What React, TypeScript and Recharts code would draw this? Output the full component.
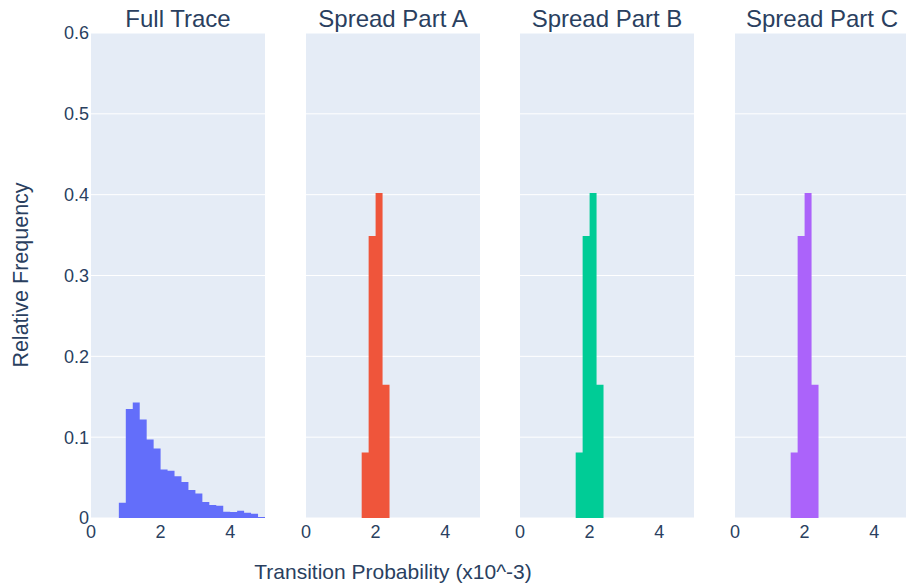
import { AreaChart, Area, XAxis, YAxis, CartesianGrid } from "recharts";

// bin edges and relative frequency per bin (bin width 0.2, x10^-3)
const fullTraceEdges = [
  0.8, 1.0, 1.2, 1.4, 1.6, 1.8, 2.0, 2.2, 2.4, 2.6, 2.8,
  3.0, 3.2, 3.4, 3.6, 3.8, 4.0, 4.2, 4.4, 4.6, 4.8, 5.0,
];
const fullTraceFreq = [
  0.019, 0.135, 0.143, 0.122, 0.097, 0.086, 0.06, 0.0585, 0.0515, 0.0446, 0.0347,
  0.0304, 0.0198, 0.0161, 0.0152, 0.0078, 0.0074, 0.009, 0.0066, 0.0053, 0.0012,
];

const spreadEdges = [1.6, 1.8, 2.0, 2.2, 2.4];
const spreadAFreq = [0.081, 0.349, 0.402, 0.165];
const spreadBFreq = [0.081, 0.349, 0.402, 0.165];
const spreadCFreq = [0.081, 0.349, 0.402, 0.165];

const panelTitles = ["Full Trace", "Spread Part A", "Spread Part B", "Spread Part C"];
const panelColors = ["#636EFA", "#EF553B", "#00CC96", "#AB63FA"];

const xTicks = [0, 2, 4];
const yTicks = [0, 0.1, 0.2, 0.3, 0.4, 0.5, 0.6];

const TEXT = "#2a3f5f";
const BG = "#E5ECF6";

// plot area geometry (px)
const PLOT_TOP = 33;
const PLOT_H = 485;
const PLOT_W = 174;
const X_AXIS_H = 42;
const Y_AXIS_W = 91;
const SIDE = 15; // room for tick labels at the plot edges
const PLOT_LEFTS = [91, 306, 520, 735];

// stepAfter area needs one point per bin start plus the closing edge
function toSteps(edges: number[], freq: number[]) {
  return edges.map((x, i) => ({ x, y: freq[Math.min(i, freq.length - 1)] }));
}

interface PanelProps {
  edges: number[];
  freq: number[];
  color: string;
  plotLeft: number;
  showY: boolean;
}

function Panel({ edges, freq, color, plotLeft, showY }: PanelProps) {
  const data = toSteps(edges, freq);
  const yw = showY ? Y_AXIS_W : 0;
  return (
    <div style={{ position: "absolute", left: plotLeft - yw - SIDE, top: 0 }}>
      <AreaChart
        width={PLOT_W + yw + SIDE * 2}
        height={PLOT_TOP + PLOT_H + X_AXIS_H}
        data={data}
        margin={{ top: PLOT_TOP, right: SIDE, bottom: 0, left: SIDE }}
      >
        <CartesianGrid vertical={false} stroke="#fff" strokeWidth={1} fill={BG} fillOpacity={1} />
        <XAxis
          dataKey="x"
          type="number"
          domain={[0, 5]}
          ticks={xTicks}
          allowDataOverflow
          height={X_AXIS_H}
          tickLine={false}
          axisLine={false}
          tickSize={0}
          tickMargin={7}
          interval={0}
          tick={{ fill: TEXT, fontSize: 18 }}
        />
        <YAxis
          type="number"
          domain={[0, 0.6]}
          ticks={yTicks}
          hide={!showY}
          width={Y_AXIS_W}
          tickLine={false}
          axisLine={false}
          tickSize={0}
          tickMargin={2}
          interval={0}
          tick={{ fill: TEXT, fontSize: 18 }}
        />
        <Area
          type="stepAfter"
          dataKey="y"
          fill={color}
          fillOpacity={1}
          stroke="none"
          dot={false}
          activeDot={false}
          isAnimationActive={false}
        />
      </AreaChart>
    </div>
  );
}

export default function App() {
  const series = [fullTraceFreq, spreadAFreq, spreadBFreq, spreadCFreq];
  const edges = [fullTraceEdges, spreadEdges, spreadEdges, spreadEdges];
  return (
    <div
      style={{
        position: "absolute",
        left: 0,
        top: 0,
        width: 906,
        height: 585,
        overflow: "hidden",
        background: "#fff",
        fontFamily: '"Liberation Sans", Arial, sans-serif',
      }}
    >
      {series.map((freq, i) => (
        <Panel
          key={panelTitles[i]}
          edges={edges[i]}
          freq={freq}
          color={panelColors[i]}
          plotLeft={PLOT_LEFTS[i]}
          showY={i === 0}
        />
      ))}
      <svg
        width={906}
        height={585}
        style={{ position: "absolute", left: 0, top: 0, pointerEvents: "none" }}
      >
        {panelTitles.map((t, i) => (
          <text
            key={t}
            x={PLOT_LEFTS[i] + PLOT_W / 2}
            y={27}
            textAnchor="middle"
            fontSize={24}
            fill={TEXT}
          >
            {t}
          </text>
        ))}
        <text x={393} y={579} textAnchor="middle" fontSize={21} fill={TEXT}>
          Transition Probability (x10^-3)
        </text>
        <text
          x={28}
          y={275}
          textAnchor="middle"
          fontSize={21.5}
          fill={TEXT}
          transform="rotate(-90 28 275)"
        >
          Relative Frequency
        </text>
      </svg>
    </div>
  );
}
